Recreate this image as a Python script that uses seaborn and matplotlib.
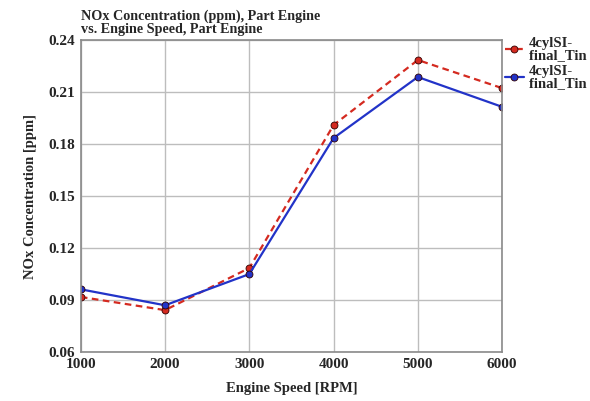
import matplotlib
matplotlib.use("Agg")
import matplotlib.pyplot as plt
import seaborn as sns
import pandas as pd

speeds = [1000, 2000, 3000, 4000, 5000, 6000]
tin70 = [0.0918, 0.0842, 0.1085, 0.1910, 0.2285, 0.2123]
tin50 = [0.0962, 0.0870, 0.1050, 0.1835, 0.2187, 0.2015]
series_names = ["4cylSI-\nfinal_Tin 70", "4cylSI-\nfinal_Tin 50"]
yticks = [0.06, 0.09, 0.12, 0.15, 0.18, 0.21, 0.24]

df = pd.concat([
    pd.DataFrame({"speed": speeds, "nox": tin70, "series": series_names[0]}),
    pd.DataFrame({"speed": speeds, "nox": tin50, "series": series_names[1]}),
])

sns.set_theme(style="white")
plt.rcParams["font.family"] = ["Liberation Serif", "DejaVu Serif"]
plt.rcParams["font.weight"] = "bold"

fig = plt.figure(figsize=(5.9, 4.01), dpi=100)
ax = fig.add_axes([0.137, 0.122, 0.714, 0.778])

colors = {series_names[0]: "#d42a20", series_names[1]: "#2233c8"}
styles = {series_names[0]: (3, 2), series_names[1]: ""}
sns.lineplot(data=df, x="speed", y="nox", hue="series", style="series",
             palette=colors, dashes=styles, markers={series_names[0]: "o", series_names[1]: "o"},
             markersize=5, markeredgecolor="#300000", markeredgewidth=0.6,
             linewidth=1.6, ax=ax, legend=True)

ax.set_xlim(1000, 6000)
ax.set_ylim(0.06, 0.24)
ax.set_xticks(speeds)
ax.set_yticks(yticks)
ax.set_xticklabels([str(s) for s in speeds], fontsize=11, fontweight="bold")
ax.set_yticklabels([f"{v:.2f}" for v in yticks], fontsize=11, fontweight="bold")
ax.grid(True, color="#bdbdbd", linewidth=1.0)
for s in ax.spines.values():
    s.set_color("#8a8a8a")
    s.set_linewidth(1.2)
ax.tick_params(axis="both", length=0, pad=4)

ax.set_xlabel("Engine Speed [RPM]", fontsize=10.5, fontweight="bold", labelpad=8)
ax.set_ylabel("NOx Concentration [ppm]", fontsize=10.5, fontweight="bold", labelpad=8)

fig.text(0.137, 0.910, "NOx Concentration (ppm), Part Engine\nvs. Engine Speed, Part Engine",
         fontsize=10.2, fontweight="bold", ha="left", va="bottom", linespacing=1.05)

leg = ax.legend(loc="upper left", bbox_to_anchor=(1.0, 1.02), frameon=False,
                fontsize=10.5, handlelength=1.3, handletextpad=0.35, labelspacing=0.2,
                borderaxespad=0.0, borderpad=0.2)
for t in leg.get_texts():
    t.set_fontweight("bold")
    t.set_linespacing(0.9)

fig.savefig("out.png", dpi=100)
